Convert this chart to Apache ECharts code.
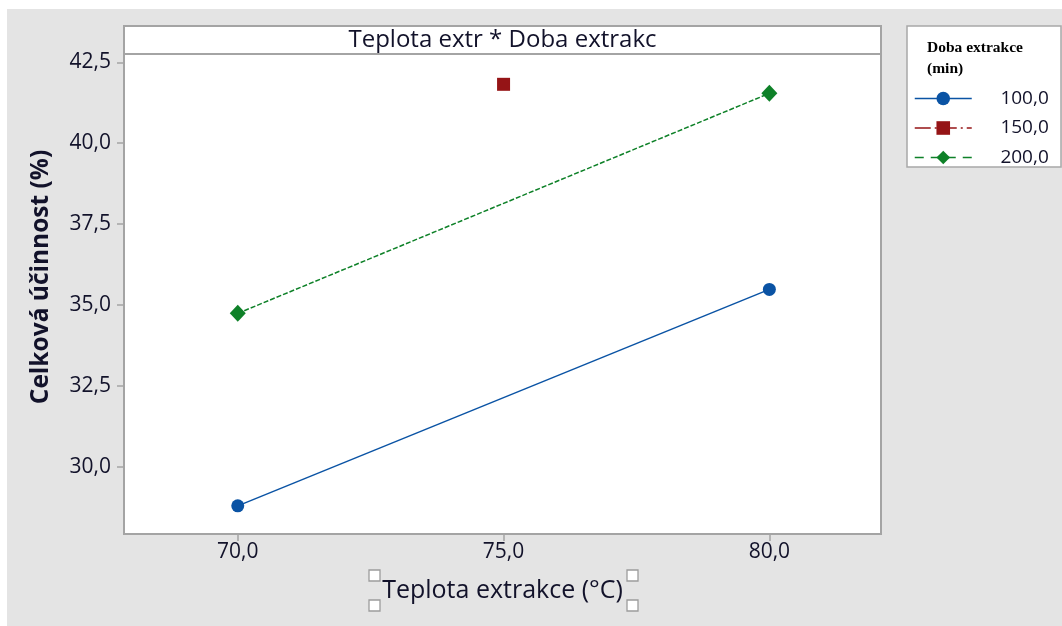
<!DOCTYPE html>
<html>
<head>
<meta charset="utf-8">
<script src="https://cdn.jsdelivr.net/npm/echarts@6/dist/echarts.min.js"></script>
<style>
  html, body { margin: 0; padding: 0; background: #ffffff; }
  #wrap { position: relative; width: 1062px; height: 626px; overflow: hidden; }
  #bg { position: absolute; left: 7px; top: 9px; right: 0; bottom: 0; background: #e4e4e4; }
  #chart { position: absolute; left: 0; top: 0; width: 1062px; height: 626px; }
</style>
</head>
<body>
<div id="wrap">
  <div id="bg"></div>
  <div id="chart"></div>
</div>
<script>
// Interaction plot: temperature x extraction time
const temperatures = [70, 75, 80];                 // Teplota extrakce (°C)
const extractionTimes = ['100,0', '150,0', '200,0']; // Doba extrakce (min)
const eff100 = [28.79, null, 35.48];
const eff150 = [null, 41.82, null];
const eff200 = [34.74, null, 41.54];
const xTicks = [70, 75, 80];
const yTicks = [30, 32.5, 35, 37.5, 40, 42.5];

const commaFmt = v => Number(v).toFixed(1).replace('.', ',');
const pairs = vals => temperatures.map((t, i) => [t, vals[i]]).filter(p => p[1] !== null);

const TEXT = '#12122a';
const FONT = '"Open Sans", "Noto Sans", sans-serif';
const AXIS_GRAY = '#a4a4a4';
const BLUE = '#0a53a4', RED = '#951416', GREEN = '#0e8128';

const chart = echarts.init(document.getElementById('chart'), null, { renderer: 'canvas' });

const PLOT = { left: 124, top: 54, right: 881, bottom: 534 };

chart.setOption({
  backgroundColor: 'transparent',
  animation: false,
  grid: {
    show: true,
    left: PLOT.left, top: PLOT.top,
    width: PLOT.right - PLOT.left, height: PLOT.bottom - PLOT.top,
    backgroundColor: '#ffffff',
    borderColor: AXIS_GRAY, borderWidth: 2
  },
  xAxis: {
    type: 'value', min: 67.86, max: 82.1,
    splitLine: { show: false },
    axisLine: { show: false },
    axisTick: { show: true, customValues: xTicks, length: 7, lineStyle: { color: AXIS_GRAY, width: 1.5 } },
    axisLabel: { customValues: xTicks, formatter: commaFmt, color: TEXT, fontFamily: FONT, fontSize: 21, margin: 8 },
    name: 'Teplota extrakce (°C)', nameLocation: 'middle', nameGap: 44,
    nameTextStyle: { color: TEXT, fontFamily: FONT, fontSize: 25 }
  },
  yAxis: {
    type: 'value', min: 27.92, max: 42.757,
    splitLine: { show: false },
    axisLine: { show: false },
    axisTick: { show: true, customValues: yTicks, length: 7, lineStyle: { color: AXIS_GRAY, width: 1.5 } },
    axisLabel: { customValues: yTicks, formatter: commaFmt, color: TEXT, fontFamily: FONT, fontSize: 21, margin: 13 }
  },
  legend: {
    orient: 'vertical', left: 909, top: 84,
    itemWidth: 57, itemHeight: 17, itemGap: 10.5,
    data: [
      { name: extractionTimes[0], lineStyle: { type: 'solid', width: 1.5 } },
      { name: extractionTimes[1], lineStyle: { type: [16, 4, 2, 4], width: 1.5 } },
      { name: extractionTimes[2], lineStyle: { type: [9, 7], width: 1.5 } }
    ],
    formatter: name => '{v|' + name + '}',
    textStyle: {
      rich: { v: { width: 72, align: 'right', color: TEXT, fontFamily: FONT, fontSize: 19 } }
    }
  },
  graphic: [
    // legend frame and heading
    { type: 'rect', z: -1, shape: { x: 907, y: 26, width: 154, height: 141 },
      style: { fill: '#ffffff', stroke: '#a8a8a8', lineWidth: 1.5 } },
    { type: 'text', left: 927, top: 37, z: 5,
      style: { text: 'Doba extrakce\n(min)', fill: '#000000', font: 'bold 15.5px "Liberation Serif", serif', lineHeight: 21 } },
    // panel header above the plot
    { type: 'rect', z: 5, shape: { x: PLOT.left, y: 26, width: PLOT.right - PLOT.left, height: 28 },
      style: { fill: '#ffffff', stroke: AXIS_GRAY, lineWidth: 2 } },
    { type: 'text', z: 6, x: (PLOT.left + PLOT.right) / 2, y: 40,
      style: { text: 'Teplota extr * Doba extrakc', fill: TEXT, font: '24px ' + FONT, align: 'center', verticalAlign: 'middle' } },
    // vertical axis title
    { type: 'text', z: 6, x: 41, y: 277, rotation: Math.PI / 2,
      style: { text: 'Celková účinnost (%)', fill: TEXT, font: 'bold 24.5px ' + FONT, align: 'center', verticalAlign: 'middle' } },
    // selection handles around the axis title
    { type: 'rect', z: 6, shape: { x: 369, y: 570, width: 11, height: 11 }, style: { fill: '#ffffff', stroke: '#9c9c9c', lineWidth: 1.3 } },
    { type: 'rect', z: 6, shape: { x: 369, y: 600, width: 11, height: 11 }, style: { fill: '#ffffff', stroke: '#9c9c9c', lineWidth: 1.3 } },
    { type: 'rect', z: 6, shape: { x: 627, y: 570, width: 11, height: 11 }, style: { fill: '#ffffff', stroke: '#9c9c9c', lineWidth: 1.3 } },
    { type: 'rect', z: 6, shape: { x: 627, y: 600, width: 11, height: 11 }, style: { fill: '#ffffff', stroke: '#9c9c9c', lineWidth: 1.3 } }
  ],
  series: [
    {
      name: extractionTimes[0], type: 'line', data: pairs(eff100),
      symbol: 'circle', symbolSize: 13,
      itemStyle: { color: BLUE },
      lineStyle: { color: BLUE, width: 1.5, type: 'solid' }
    },
    {
      name: extractionTimes[1], type: 'line', data: pairs(eff150),
      symbol: 'rect', symbolSize: 13,
      itemStyle: { color: RED },
      lineStyle: { color: RED, width: 1.5, type: [16, 4, 2, 4] }
    },
    {
      name: extractionTimes[2], type: 'line', data: pairs(eff200),
      symbol: 'diamond', symbolSize: [16, 17],
      itemStyle: { color: GREEN },
      lineStyle: { color: GREEN, width: 1.5, type: [5, 2] }
    }
  ]
});
</script>
</body>
</html>
